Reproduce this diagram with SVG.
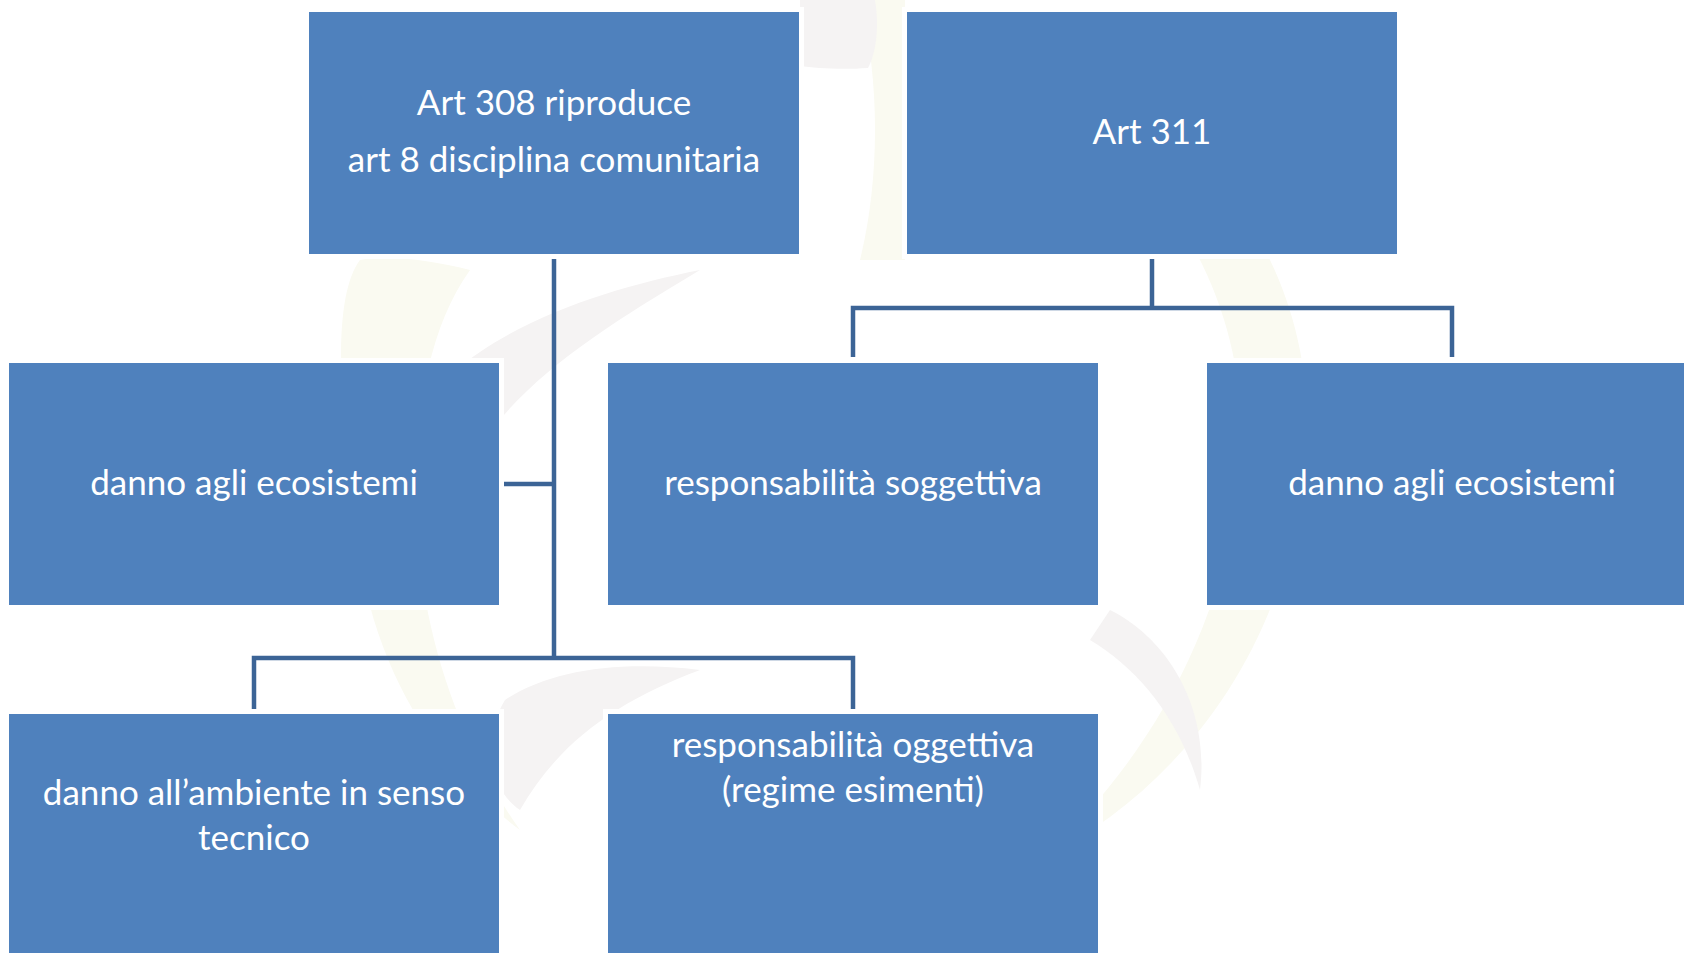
<svg xmlns="http://www.w3.org/2000/svg" width="1684" height="953" viewBox="0 0 1684 953">
  <style>
    .box { fill: #4F81BD; }
    .halo { fill: #FFFFFF; }
    .label { fill: #FFFFFF; font-family: Lato, "Liberation Sans", sans-serif; font-size: 35px; text-anchor: middle; }
    .link { fill: none; stroke: #3C6496; stroke-width: 4.5; stroke-linecap: butt; stroke-linejoin: miter; }
    .wm-y { fill: #FAFAF1; }
    .wm-g { fill: #F5F3F3; }
  </style>

  <!-- page background with faint logo watermark -->
  <rect x="0" y="0" width="1684" height="953" fill="#FFFFFF"/>
  <g id="watermark">
    <!-- pale yellow outer crescent -->
    <path class="wm-y" d="M 860 0 C 1150 40 1330 230 1305 470 C 1285 650 1180 790 1040 860 C 1150 760 1230 620 1240 460 C 1255 250 1100 70 860 0 Z"/>
    <path class="wm-y" d="M 360 260 C 330 300 340 420 360 560 C 380 680 440 770 520 830 C 470 760 430 660 420 560 C 410 450 420 340 470 270 C 430 260 390 255 360 260 Z"/>
    <path class="wm-y" d="M 860 0 L 905 0 L 905 260 L 860 260 C 880 180 880 80 860 0 Z"/>
    <!-- grey swooshes -->
    <path class="wm-g" d="M 800 0 L 875 0 C 880 30 875 55 868 68 C 840 70 815 68 800 66 Z"/>
    <path class="wm-g" d="M 410 420 C 470 330 600 290 700 270 C 600 330 520 380 470 460 Z"/>
    <path class="wm-g" d="M 505 700 C 480 740 490 790 520 810 C 560 740 620 700 700 670 C 620 660 550 670 505 700 Z"/>
    <path class="wm-g" d="M 1110 610 C 1170 640 1210 710 1200 790 C 1180 720 1140 670 1090 640 Z"/>
  </g>

  <!-- connectors -->
  <g id="connectors">
    <!-- Art 308 trunk, side stub and lower branch -->
    <path class="link" d="M 554 259 L 554 658"/>
    <path class="link" d="M 504 484 L 554 484"/>
    <path class="link" d="M 254 709 L 254 658 L 853 658 L 853 709"/>
    <!-- Art 311 branch -->
    <path class="link" d="M 1152 259 L 1152 308"/>
    <path class="link" d="M 853 357 L 853 308 L 1452 308 L 1452 357"/>
  </g>

  <!-- nodes -->
  <g id="node-art308">
    <rect class="halo" x="304" y="7" width="500" height="252"/>
    <rect class="box" x="309" y="12" width="490" height="242"/>
    <text class="label" x="554" y="115">Art 308 riproduce</text>
    <text class="label" x="554" y="172">art 8 disciplina comunitaria</text>
  </g>

  <g id="node-art311">
    <rect class="halo" x="902" y="7" width="500" height="252"/>
    <rect class="box" x="907" y="12" width="490" height="242"/>
    <text class="label" x="1152" y="144">Art 311</text>
  </g>

  <g id="node-ecosistemi-308">
    <rect class="halo" x="4" y="358" width="500" height="252"/>
    <rect class="box" x="9" y="363" width="490" height="242"/>
    <text class="label" x="254" y="495">danno agli ecosistemi</text>
  </g>

  <g id="node-soggettiva">
    <rect class="halo" x="603" y="358" width="500" height="252"/>
    <rect class="box" x="608" y="363" width="490" height="242"/>
    <text class="label" x="853" y="495">responsabilità soggettiva</text>
  </g>

  <g id="node-ecosistemi-311">
    <rect class="halo" x="1202" y="358" width="500" height="252"/>
    <rect class="box" x="1207" y="363" width="490" height="242"/>
    <text class="label" x="1452" y="495">danno agli ecosistemi</text>
  </g>

  <g id="node-ambiente">
    <rect class="halo" x="4" y="709" width="500" height="252"/>
    <rect class="box" x="9" y="714" width="490" height="242"/>
    <text class="label" x="254" y="805">danno all’ambiente in senso</text>
    <text class="label" x="254" y="850">tecnico</text>
  </g>

  <g id="node-oggettiva">
    <rect class="halo" x="603" y="709" width="500" height="252"/>
    <rect class="box" x="608" y="714" width="490" height="242"/>
    <text class="label" x="853" y="757">responsabilità oggettiva</text>
    <text class="label" x="853" y="802">(regime esimenti)</text>
  </g>
</svg>
